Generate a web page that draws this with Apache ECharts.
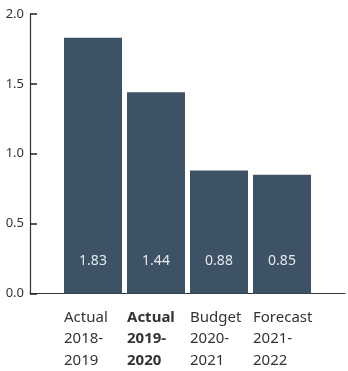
<!DOCTYPE html>
<html>
<head>
<meta charset="utf-8">
<script src="https://cdn.jsdelivr.net/npm/echarts@6/dist/echarts.min.js"></script>
<style>
  html, body { margin: 0; padding: 0; background: #fff; }
  #chart { width: 348px; height: 371px; }
</style>
</head>
<body>
<div id="chart"></div>
<script>
// Per-period values shown as bars
const categories = ['Actual\n2018-\n2019', 'Actual\n2019-\n2020', 'Budget\n2020-\n2021', 'Forecast\n2021-\n2022'];
const values = [1.83, 1.44, 0.88, 0.85];
const yTicks = [0, 0.5, 1.0, 1.5, 2.0];
const highlightIndex = 1; // current period, drawn in bold

// Pad one empty slot at each end so bars sit between the axis ends
const axisData = [''].concat(categories, ['']);
const seriesData = [null].concat(values, [null]);

const chart = echarts.init(document.getElementById('chart'));
const font = '"Noto Sans", sans-serif';

chart.setOption({
  animation: false,
  grid: { left: 30, right: -1, top: 14, bottom: 76 },
  xAxis: {
    type: 'category',
    data: axisData,
    boundaryGap: false,
    axisLine: { lineStyle: { color: '#333', width: 1.2 } },
    axisTick: { show: false },
    axisLabel: {
      interval: 0,
      align: 'left',
      padding: [0, 0, 0, -29],
      margin: 13,
      color: '#333',
      fontFamily: font,
      fontSize: 15,
      lineHeight: 21.5,
      formatter: function (v, i) {
        if (!v) return '';
        const tag = (i - 1) === highlightIndex ? 'b' : 'n';
        return v.split('\n').map(s => '{' + tag + '|' + s + '}').join('\n');
      },
      rich: {
        n: { fontFamily: font, fontSize: 15, lineHeight: 21.5, color: '#333' },
        b: { fontFamily: font, fontSize: 15, lineHeight: 21.5, color: '#333', fontWeight: 'bold' }
      }
    }
  },
  yAxis: {
    type: 'value',
    min: yTicks[0],
    max: yTicks[yTicks.length - 1],
    interval: 0.5,
    axisLine: { show: true, lineStyle: { color: '#333', width: 1.2 } },
    axisTick: { show: true, inside: true, length: 7, lineStyle: { color: '#222', width: 1.5 } },
    splitLine: { show: false },
    axisLabel: {
      margin: 6,
      color: '#333',
      fontFamily: font,
      fontSize: 13,
      formatter: v => v.toFixed(1)
    }
  },
  series: [{
    type: 'bar',
    data: seriesData,
    barWidth: 58,
    itemStyle: { color: '#3d5264' },
    label: {
      show: true,
      position: 'insideBottom',
      distance: 25,
      color: '#e6e9ec',
      fontFamily: font,
      fontSize: 14,
      formatter: p => p.value.toFixed(2)
    }
  }]
});
</script>
</body>
</html>
